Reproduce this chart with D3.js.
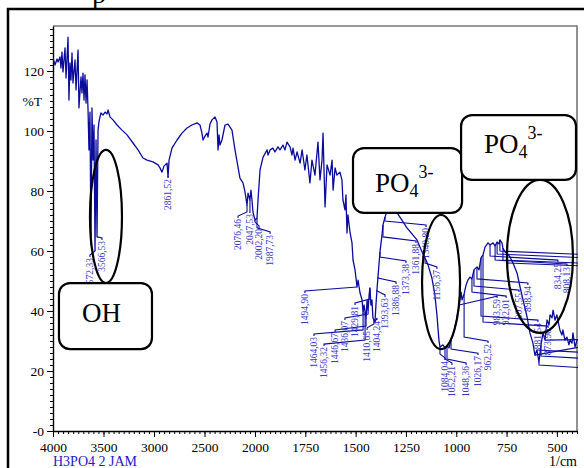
<!DOCTYPE html>
<html><head><meta charset="utf-8">
<script src="https://cdn.jsdelivr.net/npm/d3@7"></script>
<style>body{margin:0;background:#fff}svg{display:block}</style>
</head><body>
<svg id="c" width="584" height="468"></svg>
<script>
// ---- data (wavenumber 1/cm, %T) ----
const spectrum = [
[4000,124.3],[3980,122.0],[3960,124.0],[3950,123.0],[3931,124.7],[3921,121.0],[3911,126.3],[3901,119.7],[3881,127.7],[3871,117.7],
[3851,131.3],[3842,110.3],[3832,122.7],[3822,117.0],[3812,126.0],[3802,116.0],[3782,123.7],[3772,113.7],[3752,127.0],[3743,107.7],
[3723,118.0],[3713,112.7],[3703,119.3],[3693,110.3],[3683,118.7],[3673,109.3],[3663,117.0],[3653,107.0],[3644,93.7],[3634,106.3],
[3624,62.0],[3614,107.7],[3604,90.3],[3594,102.0],[3584,60.3],[3574,97.0],[3564,64.7],[3554,100.3],[3545,103.0],[3535,104.7],
[3525,106.0],[3505,105.3],[3485,106.3],[3465,105.7],[3455,107.0],[3436,104.7],[3406,103.7],[3366,102.0],[3317,100.3],[3267,98.7],
[3208,96.0],[3158,93.7],[3109,91.0],[3069,90.3],[3010,89.7],[2960,88.7],[2941,87.7],[2921,86.3],[2901,88.3],[2871,89.3],
[2861,84.7],[2851,90.3],[2822,94.3],[2772,97.0],[2723,99.3],[2673,101.0],[2624,102.0],[2574,102.7],[2545,102.0],[2525,99.3],
[2515,97.0],[2495,98.3],[2475,99.3],[2465,98.0],[2446,102.3],[2426,103.7],[2396,104.7],[2376,103.0],[2366,93.7],[2356,98.7],
[2347,95.3],[2327,97.0],[2297,102.0],[2267,102.3],[2228,100.3],[2198,93.7],[2149,84.3],[2119,82.7],[2099,79.7],[2079,75.3],
[2069,79.3],[2050,77.0],[2040,80.3],[2030,77.0],[2020,73.0],[2000,70.3],[1990,71.0],[1985,77.0],[1975,87.0],[1960,91.3],
[1940,93.7],[1935,92.0],[1925,93.7],[1911,94.3],[1901,93.0],[1886,94.7],[1876,93.7],[1861,95.3],[1851,93.7],[1841,96.3],
[1826,94.7],[1816,92.0],[1811,94.3],[1801,90.3],[1791,93.0],[1776,89.3],[1766,93.7],[1752,87.0],[1742,92.0],[1727,82.7],
[1717,90.3],[1702,85.3],[1687,96.3],[1677,83.7],[1667,90.3],[1662,99.3],[1652,74.7],[1642,88.7],[1627,85.3],[1617,90.3],
[1612,80.3],[1602,87.7],[1593,85.3],[1578,86.3],[1568,83.7],[1563,77.0],[1553,73.7],[1548,78.7],[1543,66.0],[1538,72.0],
[1528,66.3],[1518,62.7],[1513,57.0],[1503,53.7],[1493,48.0],[1488,50.3],[1478,46.0],[1468,43.7],[1463,39.3],[1458,42.0],
[1453,39.7],[1448,37.7],[1443,43.7],[1438,40.3],[1433,45.3],[1429,47.7],[1424,42.0],[1419,43.7],[1414,37.7],[1409,37.0],
[1404,36.3],[1399,42.0],[1394,47.0],[1389,51.3],[1379,59.7],[1369,65.3],[1364,68.7],[1354,71.3],[1339,74.3],[1319,75.3],
[1294,72.7],[1270,70.3],[1245,67.7],[1220,65.7],[1195,63.7],[1170,59.7],[1155,57.7],[1140,55.3],[1121,51.0],[1106,45.3],
[1096,38.7],[1086,30.3],[1081,28.0],[1066,28.7],[1056,27.7],[1046,28.3],[1036,27.7],[1026,30.3],[1016,32.0],[1001,36.0],
[986,42.0],[976,46.3],[971,43.7],[961,45.7],[951,48.7],[942,50.3],[932,51.3],[922,50.7],[912,53.7],[897,54.7],
[887,53.7],[877,57.7],[867,58.7],[857,61.3],[842,62.7],[832,62.0],[817,62.7],[807,61.7],[797,63.0],[787,62.3],
[783,63.7],[773,62.7],[768,61.0],[758,59.7],[748,59.3],[733,58.0],[718,56.0],[698,52.7],[683,48.0],[668,43.7],
[648,38.0],[634,32.7],[619,29.3],[609,25.3],[599,27.0],[589,23.0],[579,28.7],[569,32.7],[559,30.3],[549,37.0],
[539,35.3],[534,38.7],[524,37.7],[519,40.3],[509,37.0],[500,38.7],[490,35.3],[485,33.7],[475,32.0],[470,33.7],
[460,30.3],[450,31.3],[440,28.7],[435,30.3],[425,29.3],[420,32.7],[410,28.0],[400,30.3]
];

// peak labels: [text, peak wavenumber, peak %T, label wavenumber, label top %T]
const peakLabels = [
["3572,33",3584,60.3,3634,58.0],["3566,53",3564,64.7,3515,63.7],["2861,52",2861,84.7,2861,84.3],
["2076,46",2079,75.3,2168,71.0],["2047,53",2050,77.0,2050,72.7],["2002,20",2000,70.3,1980,67.7],["1987,73",1990,71.0,1925,65.7],
["1494,90",1493,48.0,1752,46.0],["1464,03",1463,39.3,1707,31.7],["1456,32",1453,39.7,1657,28.3],["1446,67",1448,37.7,1602,33.0],
["1436,07",1438,40.3,1553,37.0],["1429,81",1429,47.7,1503,42.0],["1410,65",1409,37.0,1443,33.7],["1404,24",1404,36.3,1394,37.0],
["1393,63",1394,47.0,1354,44.7],["1386,88",1389,51.3,1299,49.0],["1373,38",1379,59.7,1250,56.0],["1361,88",1364,68.7,1200,62.7],
["1340,80",1354,71.3,1150,68.0],["1156,37",1155,57.7,1096,54.0],["1084,04",1081,28.0,1056,23.7],["1052,21",1056,27.7,1021,22.0],
["1048,36",1046,28.3,951,22.0],["1026,17",1026,30.3,892,25.3],["962,52",961,45.7,842,29.3],["983,59",986,42.0,797,44.3],
["922,01",922,50.7,752,44.3],["907,55",912,53.7,688,46.3],["898,94",897,54.7,644,48.7],["881,54",877,57.7,594,36.3],
["873,90",867,58.7,544,34.3],["834,25",832,62.0,495,56.3],["808,13",807,61.7,450,55.0],
["797,63",797,63.0,330,57.0],["783,51",783,63.7,300,58.0],["768,02",768,61.0,270,55.0],["748,20",748,59.3,240,54.0],
["609,18",609,25.3,330,28.0],["599,12",599,27.0,300,25.3],["589,40",589,23.0,270,20.0],["579,30",579,28.7,240,23.0],["559,80",559,30.3,210,30.0]
];

const xTickValues = [4000,3500,3000,2500,2000,1750,1500,1250,1000,750,500];
const yTickValues = [0,20,40,60,80,100,120];
const yTickLabels = ["-0","20","40","60","80","100","120"];
const sampleName = "H3PO4 2 JAM";
const xUnit = "1/cm";
const yUnit = "%T";

// annotation boxes: [text main, sub, sup, wnLeft, wnRight, tTop, tBottom, textWn, textT]
const boxes = [
  ["OH","","",3941,3020,49.3,27.3,3713,36.3],
  ["PO","4","3-",1513,971,94.3,72.7,1404,79.7],
  ["PO","4","3-",976,405,105.3,83.7,862,92.7]
];
// ellipses: [wnLeft, wnRight, tTop, tBottom]
const ellipses = [[3634,3317,93.7,49.3],[1170,981,72.0,27.3],[748,420,83.7,32.7]];

// ---- drawing ----
const svg = d3.select("#c");
const x = d3.scaleLinear().domain([4000,2000,400]).range([53,255,577]);
const y = d3.scaleLinear().domain([0,135]).range([431,26]);
const serif = "'Liberation Serif','Times New Roman',serif";
const lineBlue = "#0c0c9c", labelBlue = "#3b3bc8";

svg.append("defs").append("clipPath").attr("id","plot")
  .append("rect").attr("x",x(4000)).attr("y",y(135)).attr("width",x(400)-x(4000)+1).attr("height",y(0)-y(135));

// outer frame
svg.append("rect").attr("x",8).attr("y",9).attr("width",640).attr("height",540)
  .attr("fill","none").attr("stroke","#000").attr("stroke-width",2.5);
// title fragment (cut off at top)
svg.append("text").attr("x",92).attr("y",3).attr("font-family",serif).attr("font-size",28).text("p");

// plot frame top/right
svg.append("path").attr("d",`M${x(4000)},${y(135)}H${x(400)}V${y(0)}`)
  .attr("fill","none").attr("stroke","#777").attr("stroke-width",1.6);

// axes
const xMinor = d3.range(4000,2000,-50).concat(d3.range(2000,399,-25));
const yMinor = d3.range(0,135,2);
function styleAxis(g){ g.selectAll("line").attr("stroke","#000"); g.selectAll("text").attr("font-family",serif).attr("font-size",13.5).attr("fill","#000"); }
svg.append("g").attr("transform",`translate(0,${y(0)})`)
  .call(d3.axisBottom(x).tickValues(xMinor).tickSize(3).tickFormat("").tickSizeOuter(0))
  .call(g=>g.select(".domain").remove()).call(styleAxis);
svg.append("g").attr("transform",`translate(0,${y(0)})`)
  .call(d3.axisBottom(x).tickValues(xTickValues).tickSize(6).tickPadding(5).tickSizeOuter(0).tickFormat(d3.format("d")))
  .call(g=>g.select(".domain").attr("stroke","#000").attr("stroke-width",1.4)).call(styleAxis);
svg.append("g").attr("transform",`translate(${x(4000)},0)`)
  .call(d3.axisLeft(y).tickValues(yMinor).tickSize(3).tickFormat("").tickSizeOuter(0))
  .call(g=>g.select(".domain").remove()).call(styleAxis);
svg.append("g").attr("transform",`translate(${x(4000)},0)`)
  .call(d3.axisLeft(y).tickValues(yTickValues).tickSize(6).tickPadding(3).tickSizeOuter(0).tickFormat((d,i)=>yTickLabels[i]))
  .call(g=>g.select(".domain").attr("stroke","#000").attr("stroke-width",1.4)).call(styleAxis);

svg.append("text").attr("x",x(4000)-11).attr("y",y(110)+5).attr("text-anchor","end")
  .attr("font-family",serif).attr("font-size",13.5).text(yUnit);
svg.append("text").attr("x",x(4000)).attr("y",466).attr("font-family",serif).attr("font-size",14)
  .attr("fill","#2020c8").text(sampleName);
svg.append("text").attr("x",x(400)).attr("y",466).attr("text-anchor","end").attr("font-family",serif).attr("font-size",14)
  .text(xUnit);

const plot = svg.append("g").attr("clip-path","url(#plot)");
// spectrum
plot.append("path").datum(spectrum)
  .attr("d",d3.line().x(d=>x(d[0])).y(d=>y(d[1])))
  .attr("fill","none").attr("stroke",lineBlue).attr("stroke-width",1.3).attr("stroke-linejoin","round");

// leaders + labels (labels placed past the right edge are off the chart, only their leaders show)
plot.selectAll("path.leader").data(peakLabels).join("path").attr("class","leader")
  .attr("d",d=>{
    const px=x(d[1]), py=y(d[2]), lx=x(d[3]), ly=y(d[4]);
    return d3.line()([[px,py],[px,Math.max(py,ly-6)],[lx,ly-2],[lx,ly]]);
  })
  .attr("fill","none").attr("stroke",lineBlue).attr("stroke-width",1.1);
plot.selectAll("text.pk").data(peakLabels.filter(d=>d[3]>=400)).join("text").attr("class","pk")
  .attr("transform",d=>`translate(${x(d[3])+3.2},${y(d[4])+1}) rotate(-90)`)
  .attr("text-anchor","end").attr("font-family",serif).attr("font-size",9.5).attr("fill",labelBlue)
  .text(d=>d[0]);

// ellipses
svg.selectAll("ellipse").data(ellipses).join("ellipse")
  .attr("cx",d=>(x(d[0])+x(d[1]))/2).attr("cy",d=>(y(d[2])+y(d[3]))/2)
  .attr("rx",d=>(x(d[1])-x(d[0]))/2).attr("ry",d=>(y(d[3])-y(d[2]))/2)
  .attr("fill","none").attr("stroke","#000").attr("stroke-width",2.2);

// boxes
const bg = svg.selectAll("g.box").data(boxes).join("g").attr("class","box");
bg.append("rect").attr("x",d=>x(d[3])).attr("y",d=>y(d[5]))
  .attr("width",d=>x(d[4])-x(d[3])).attr("height",d=>y(d[6])-y(d[5]))
  .attr("rx",11).attr("fill","#fff").attr("stroke","#000").attr("stroke-width",2.2);
const bt = bg.append("text").attr("x",d=>x(d[7])).attr("y",d=>y(d[8]))
  .attr("font-family",serif).attr("font-size",27).attr("fill","#000");
bt.append("tspan").text(d=>d[0]);
bt.append("tspan").attr("font-size",18).attr("dy",5).text(d=>d[1]);
bt.append("tspan").attr("font-size",18).attr("dy",-19).text(d=>d[2]);
</script>
</body></html>
